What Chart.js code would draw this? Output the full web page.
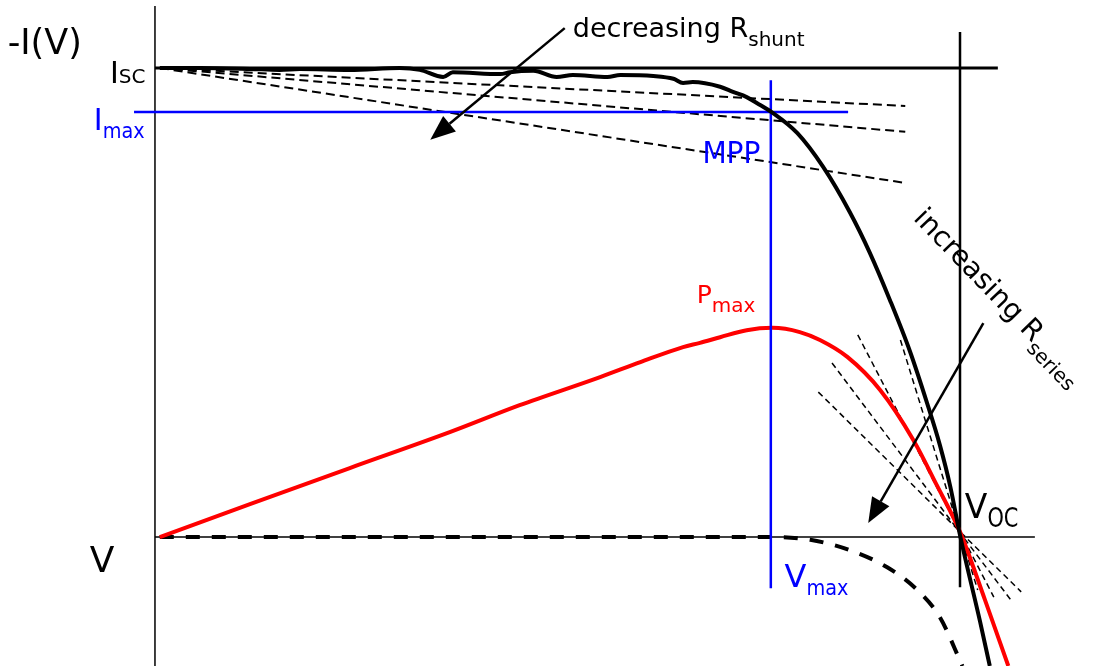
<!DOCTYPE html>
<html lang="en">
<head>
    <meta charset="UTF-8">
    <title>Solar cell I-V curve</title>
    <script src="https://cdn.jsdelivr.net/npm/chart.js"></script>
    <style>
        html, body { margin: 0; padding: 0; background: #fff; }
        #wrap { width: 1093px; height: 666px; position: relative; }
    </style>
</head>
<body>
    <div id="wrap"><canvas id="ivChart"></canvas></div>

    <script>
        // voltage in units of Voc, current in units of Isc
        const ivV = [0.006, 0.056, 0.118, 0.155, 0.180, 0.242, 0.304, 0.329, 0.358, 0.370, 0.429, 0.441, 0.470, 0.499, 0.519, 0.562, 0.578, 0.619, 0.644, 0.656, 0.668, 0.702, 0.718, 0.735, 0.748, 0.766, 0.798, 0.830, 0.863, 0.888, 0.913, 0.938, 0.959, 0.975, 0.988, 1.000, 1.025, 1.037];
        const ivI = [1.000, 1.000, 0.998, 0.996, 0.998, 0.996, 1.000, 0.996, 0.981, 0.991, 0.987, 0.991, 0.994, 0.981, 0.985, 0.981, 0.985, 0.983, 0.977, 0.968, 0.970, 0.960, 0.949, 0.938, 0.925, 0.906, 0.861, 0.789, 0.693, 0.606, 0.505, 0.395, 0.286, 0.196, 0.107, 0.004, -0.181, -0.275];

        const powerV = [0.006, 0.118, 0.242, 0.367, 0.453, 0.553, 0.603, 0.656, 0.677, 0.702, 0.735, 0.767, 0.801, 0.826, 0.860, 0.901, 0.942, 0.971, 1.000, 1.031, 1.060];
        const powerP = [0.000, 0.070, 0.147, 0.224, 0.281, 0.341, 0.373, 0.405, 0.414, 0.426, 0.441, 0.446, 0.437, 0.420, 0.384, 0.313, 0.207, 0.111, 0.011, -0.134, -0.275];

        const darkV = [0.006, 0.764, 0.814, 0.863, 0.909, 0.947, 0.975, 1.003];
        const darkI = [0.000, 0.000, -0.006, -0.028, -0.064, -0.113, -0.171, -0.275];

        // decreasing shunt resistance: lines from Isc
        const shuntStart = [0.006, 1.000];
        const shuntEndV = [0.932, 0.932, 0.932];
        const shuntEndI = [0.919, 0.864, 0.755];

        // increasing series resistance: lines through Voc
        const seriesStartV = [0.926, 0.873, 0.841, 0.824];
        const seriesStartI = [0.420, 0.431, 0.371, 0.309];
        const seriesEndV = [1.022, 1.042, 1.063, 1.076];
        const seriesEndI = [-0.113, -0.128, -0.134, -0.117];

        const Imax = 0.906, Vmax = 0.765;

        const blue = '#0000ff', red = '#ff0000';

        function pts(xs, ys) { return xs.map((x, k) => ({ x: x, y: ys[k] })); }

        function line(data, color, width, extra) {
            return Object.assign({
                data: data, borderColor: color, borderWidth: width,
                showLine: true, pointRadius: 0, fill: false, tension: 0
            }, extra || {});
        }

        const datasets = [
            line(pts([0, 0], [1.132, -0.275]), '#000', 1.5, { order: 20 }),
            line(pts([0, 1.093], [0, 0]), '#000', 1.5, { order: 20 }),
            line(pts([0, 1.047], [1, 1]), '#000', 3, { order: 20 }),
            line(pts([1, 1], [1.077, -0.107]), '#000', 2.5, { order: 20 }),
        ];
        shuntEndV.forEach((v, k) => {
            datasets.push(line(pts([shuntStart[0], v], [shuntStart[1], shuntEndI[k]]), '#000', 2, { borderDash: [9, 5], order: 15 }));
        });
        seriesStartV.forEach((v, k) => {
            datasets.push(line(pts([v, seriesEndV[k]], [seriesStartI[k], seriesEndI[k]]), '#000', 1.5, { borderDash: [6, 4], order: 15 }));
        });
        datasets.push(line(pts(darkV, darkI), '#000', 4, { borderDash: [14, 12], cubicInterpolationMode: 'monotone', order: 12 }));
        datasets.push(line(pts(powerV, powerP), red, 4, { cubicInterpolationMode: 'monotone', order: 10 }));
        datasets.push(line(pts([-0.026, 0.861], [Imax, Imax]), blue, 2.5, { order: 9 }));
        datasets.push(line(pts([Vmax, Vmax], [0.974, -0.109]), blue, 2.5, { order: 9 }));
        datasets.push(line(pts(ivV, ivI), '#000', 4, { cubicInterpolationMode: 'monotone', order: 5 }));

        const arrows = [
            { from: [0.509, 1.085], to: [0.342, 0.847] },
            { from: [1.029, 0.456], to: [0.886, 0.030] }
        ];

        // text: anchor (V, I), parts = [text, size, baseline shift, max width]
        const labels = [
            { v: -0.183, i: 1.030, color: '#000', parts: [['-I(V)', 35]] },
            { v: 0.519, i: 1.066, color: '#000', parts: [['decreasing R', 27], ['shunt', 20, 9]] },
            { v: -0.056, i: 0.968, color: '#000', parts: [['I', 30], ['SC', 20, 0, 27]] },
            { v: -0.076, i: 0.868, color: blue, parts: [['I', 30], ['max', 22, 8, 42]] },
            { v: 0.680, i: 0.797, color: blue, parts: [['MPP', 30, 0, 58]] },
            { v: 0.673, i: 0.499, color: red, parts: [['P', 25], ['max', 20, 9, 45]] },
            { v: 0.782, i: -0.107, color: blue, parts: [['V', 32], ['max', 22, 8, 42]] },
            { v: 1.006, i: 0.041, color: '#000', parts: [['V', 33], ['OC', 27, 9, 31]] },
            { v: -0.081, i: -0.075, color: '#000', parts: [['V', 36]] },
            { v: 0.941, i: 0.678, color: '#000', rot: 46, parts: [['increasing R', 28], ['series', 20, 9]] }
        ];

        const overlay = {
            id: 'overlay',
            afterDatasetsDraw(chart) {
                const ctx = chart.ctx;
                const sx = chart.scales.x, sy = chart.scales.y;
                ctx.save();
                arrows.forEach(a => {
                    const x0 = sx.getPixelForValue(a.from[0]), y0 = sy.getPixelForValue(a.from[1]);
                    const x1 = sx.getPixelForValue(a.to[0]), y1 = sy.getPixelForValue(a.to[1]);
                    const ang = Math.atan2(y1 - y0, x1 - x0);
                    const hl = 25, hw = 10;
                    const bx = x1 - hl * Math.cos(ang), by = y1 - hl * Math.sin(ang);
                    ctx.strokeStyle = '#000';
                    ctx.lineWidth = 2.5;
                    ctx.beginPath();
                    ctx.moveTo(x0, y0);
                    ctx.lineTo(bx, by);
                    ctx.stroke();
                    ctx.fillStyle = '#000';
                    ctx.beginPath();
                    ctx.moveTo(x1, y1);
                    ctx.lineTo(bx + hw * Math.sin(ang), by - hw * Math.cos(ang));
                    ctx.lineTo(bx - hw * Math.sin(ang), by + hw * Math.cos(ang));
                    ctx.closePath();
                    ctx.fill();
                });
                ctx.textBaseline = 'alphabetic';
                ctx.textAlign = 'left';
                labels.forEach(l => {
                    ctx.save();
                    ctx.translate(sx.getPixelForValue(l.v), sy.getPixelForValue(l.i));
                    if (l.rot) ctx.rotate(l.rot * Math.PI / 180);
                    ctx.fillStyle = l.color;
                    let x = 0;
                    l.parts.forEach(p => {
                        ctx.font = p[1] + 'px "DejaVu Sans", sans-serif';
                        let w = ctx.measureText(p[0]).width;
                        if (p[3] && w > p[3]) {
                            ctx.fillText(p[0], x, p[2] || 0, p[3]);
                            w = p[3];
                        } else {
                            ctx.fillText(p[0], x, p[2] || 0);
                        }
                        x += w;
                    });
                    ctx.restore();
                });
                ctx.restore();
            }
        };

        new Chart(document.getElementById('ivChart'), {
            type: 'scatter',
            data: { datasets: datasets },
            options: {
                responsive: true,
                maintainAspectRatio: false,
                animation: false,
                layout: { padding: 0 },
                plugins: { legend: { display: false }, tooltip: { enabled: false } },
                scales: {
                    x: { type: 'linear', min: -0.1925, max: 1.1652, display: false },
                    y: { type: 'linear', min: -0.275, max: 1.145, display: false }
                }
            },
            plugins: [overlay]
        });
    </script>
</body>
</html>
